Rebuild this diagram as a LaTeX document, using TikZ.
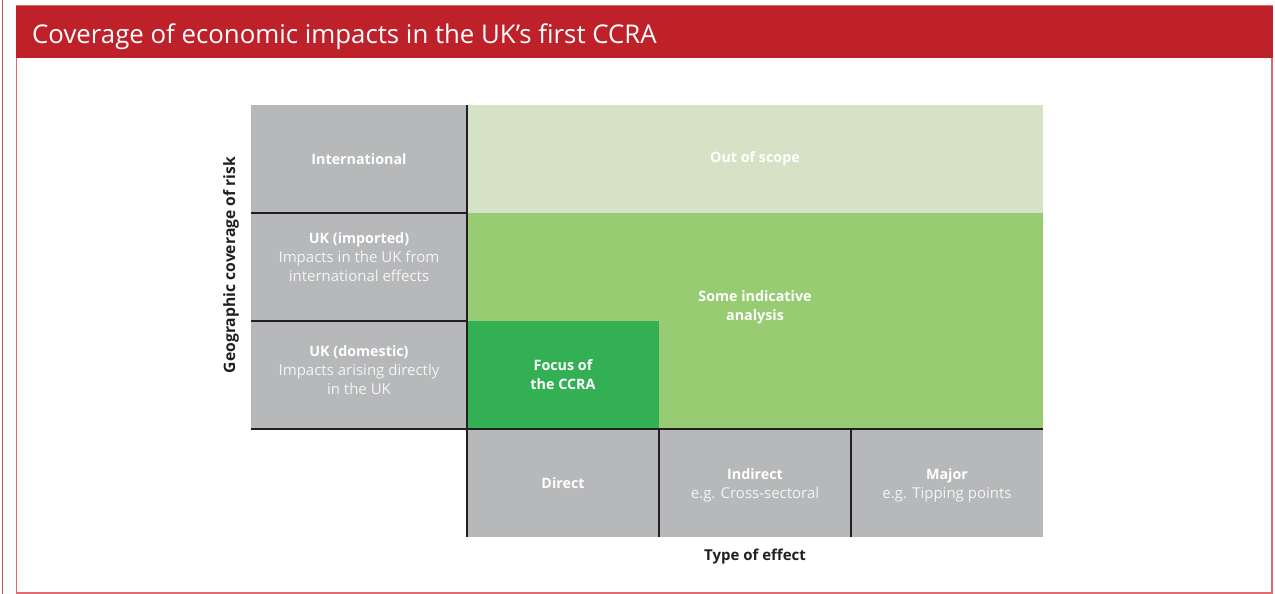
\documentclass[tikz,border=0pt]{standalone}
\usepackage{fontspec}
\setmainfont{Open Sans}
\newcommand{\subtxt}{\color{subw}\fontsize{15}{19}\selectfont}
\begin{document}
\begin{tikzpicture}[x=1pt,y=-1pt,
  cell/.style={inner sep=0pt, outer sep=0pt, anchor=north west},
  graycell/.style={cell, fill=cellgray},
  lbl/.style={text=white, align=center, font=\fontsize{14.3}{19}\selectfont},
  grid/.style={draw=gridline, line width=1.1pt},
  axis/.style={font=\bfseries\fontsize{15}{18}\selectfont, text=gridline},
]
\definecolor{hdrred}{HTML}{BE2129}
\definecolor{bordred}{HTML}{E06A6E}
\definecolor{cellgray}{HTML}{B7B8BA}
\definecolor{paleg}{HTML}{D5E2C6}
\definecolor{midg}{HTML}{97CC72}
\definecolor{darkg}{HTML}{34B054}
\definecolor{gridline}{HTML}{231F20}
\definecolor{subw}{HTML}{F4F4F4}
\useasboundingbox (0,0) rectangle (1275,594);
% frame
\draw[draw=hdrred!80, line width=1.5pt] (2.5,0) -- (2.5,594);
\draw[draw=bordred, line width=1.2pt] (16.5,6) rectangle (1272,593);
\fill[hdrred] (16,6) rectangle (1272.5,58);
\node[anchor=base west, text=white, inner sep=0pt, font=\fontsize{25.8}{30}\selectfont] (title) at (32,44) {Coverage of economic impacts in the UK’s first CCRA};
% regions
\node[cell, fill=paleg, minimum width=576pt, minimum height=108pt] (oos) at (467,105) {};
\node[cell, fill=midg, minimum width=576pt, minimum height=216pt] (some) at (467,213) {};
\node[cell, fill=darkg, minimum width=192pt, minimum height=108pt] (focus) at (467,321) {};
\node[graycell, minimum width=216pt, minimum height=108pt] (intl) at (251,105) {};
\node[graycell, minimum width=216pt, minimum height=108pt] (ukimp) at (251,213) {};
\node[graycell, minimum width=216pt, minimum height=108pt] (ukdom) at (251,321) {};
\node[graycell, minimum width=192pt, minimum height=108pt] (direct) at (467,429) {};
\node[graycell, minimum width=192pt, minimum height=108pt] (indirect) at (659,429) {};
\node[graycell, minimum width=192pt, minimum height=108pt] (major) at (851,429) {};
% labels
\node[lbl] at (oos.center) {\bfseries Out of scope};
\node[lbl] at (755,307.5) {\bfseries Some indicative\\\bfseries analysis};
\node[lbl] at (focus.center) {\bfseries Focus of\\\bfseries the CCRA};
\node[lbl] at (intl.center) {\bfseries International};
\node[lbl] at ([yshift=10pt]ukimp.center) {\bfseries UK (imported)\\\subtxt Impacts in the UK from\\\subtxt international effects};
\node[lbl] at ([yshift=5pt]ukdom.center) {\bfseries UK (domestic)\\\subtxt Impacts arising directly\\\subtxt in the UK};
\node[lbl] at (direct.center) {\bfseries Direct};
\node[lbl] at ([yshift=-2pt]indirect.center) {\bfseries Indirect\\\subtxt e.g. Cross-sectoral};
\node[lbl] at ([yshift=-2pt]major.center) {\bfseries Major\\\subtxt e.g. Tipping points};
% grid lines
\draw[grid] (intl.north east) -- (direct.south west);
\draw[grid] (intl.south west) -- (intl.south east);
\draw[grid] (ukimp.south west) -- (ukimp.south east);
\draw[grid] (ukdom.south west) -- (major.north east);
\draw[grid] (direct.north east) -- (direct.south east);
\draw[grid] (indirect.north east) -- (indirect.south east);
% axis labels
\node[axis] (xlab) at (755,557) {Type of effect};
\node[axis, font=\bfseries\fontsize{15.7}{18}\selectfont, rotate=90] (ylab) at (231,265) {Geographic coverage of risk};
\end{tikzpicture}
\end{document}
